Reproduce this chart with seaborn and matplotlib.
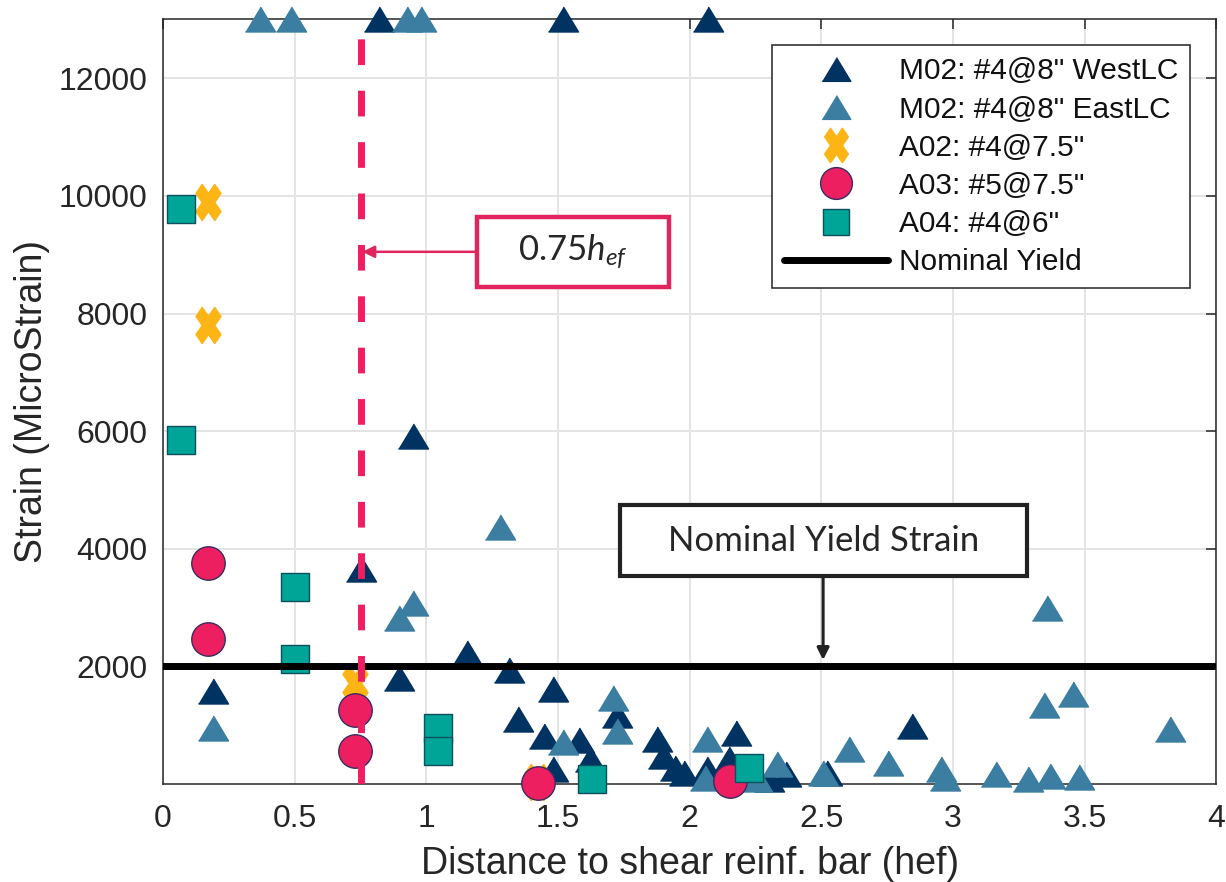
import numpy as np
import pandas as pd
import seaborn as sns
import matplotlib.pyplot as plt
from matplotlib.lines import Line2D
from matplotlib.markers import MarkerStyle
from matplotlib.patches import Rectangle
from matplotlib.transforms import Affine2D

# data (x in hef, y in microstrain)
west_x = [0.82, 1.52, 2.07, 0.95, 0.75, 0.19, 0.895, 1.155, 1.315, 1.48, 1.35, 1.445, 1.58, 1.62,
          1.48, 1.725, 1.875, 1.90, 1.945, 1.98, 2.065, 2.175, 2.15, 2.365, 2.30, 2.52, 2.845]
west_y = [13000, 13000, 13000, 5920, 3660, 1580, 1810, 2230, 1940, 1610, 1100, 815, 750, 420,
          250, 1180, 765, 475, 280, 190, 250, 870, 420, 165, 90, 190, 990]

east_x = [0.367, 0.486, 0.926, 0.981, 1.28, 0.95, 0.895, 0.19, 1.52, 1.71, 1.725, 2.065, 2.06, 2.33,
          2.255, 2.505, 2.605, 2.755, 2.955, 2.97, 3.165, 3.285, 3.37, 3.478, 3.358, 3.345, 3.457, 3.825]
east_y = [13000, 13000, 13000, 13000, 4365, 3085, 2820, 960, 710, 1470, 900, 765, 110, 335,
          80, 195, 590, 365, 250, 110, 165, 90, 135, 120, 3000, 1340, 1535, 930]

a02_x = [0.172, 0.172, 0.73, 1.42]
a02_y = [9900, 7800, 1720, 40]

a03_x = [0.172, 0.172, 0.73, 0.73, 1.425, 2.155]
a03_y = [3760, 2460, 1255, 560, 20, 50]

a04_x = [0.067, 0.067, 0.50, 0.50, 1.045, 1.045, 1.628, 2.225]
a04_y = [9780, 5855, 3350, 2120, 950, 560, 80, 280]

yield_strain = 2000
hef_line = 0.75

labels = ['M02: #4@8" WestLC', 'M02: #4@8" EastLC', 'A02: #4@7.5"', 'A03: #5@7.5"', 'A04: #4@6"']
colors = ['#003262', '#3B7EA1', '#FDB515', '#EE1F60', '#00A598']
edges = ['#003262', '#3B7EA1', '#FDB515', '#3B2B60', '#0E4F5C']

# markers: flattened triangle, tall filled X
tri = np.array([[-1, -0.83], [1, -0.83], [0, 0.83]])
xm = MarkerStyle('X')
xpath = xm.get_path().transformed(xm.get_transform() + Affine2D().scale(0.69, 1.0))
markers = [tri, tri, xpath, 'o', 's']
sizes = [470, 470, 680, 580, 390]

sns.set_style('whitegrid')
plt.rcParams['font.family'] = ['Liberation Sans', 'DejaVu Sans']
plt.rcParams['mathtext.fontset'] = 'custom'
plt.rcParams['mathtext.rm'] = 'Lato'
plt.rcParams['mathtext.it'] = 'Lato:italic'

fig = plt.figure(figsize=(12.26, 8.82), dpi=100)
ax = fig.add_axes([0.133, 0.111, 0.859, 0.867])

series = [(west_x, west_y), (east_x, east_y), (a02_x, a02_y), (a03_x, a03_y), (a04_x, a04_y)]
for (xs, ys), lab, c, ec, m, s in zip(series, labels, colors, edges, markers, sizes):
    df = pd.DataFrame({'x': xs, 'y': ys})
    sns.scatterplot(data=df, x='x', y='y', ax=ax, color=c, edgecolor=ec, marker=m, s=s,
                    linewidth=1.0, clip_on=False, zorder=3, legend=False)

# nominal yield and 0.75hef lines
ax.axhline(yield_strain, color='black', lw=5, zorder=4)
ax.plot([hef_line, hef_line], [0, 13000], color='#EE1F60', lw=5, dashes=(3.7, 3.7), zorder=4,
        solid_capstyle='butt', dash_capstyle='butt')

ax.set_xlim(0, 4)
ax.set_ylim(0, 13000)
ax.set_xticks(np.arange(0, 4.01, 0.5))
ax.set_xticklabels(['0', '0.5', '1', '1.5', '2', '2.5', '3', '3.5', '4'])
ax.set_yticks([2000, 4000, 6000, 8000, 10000, 12000])
ax.tick_params(labelsize=23, direction='in', length=7.5, width=1.1, color='#262626',
               labelcolor='#262626', top=True, right=True)
ax.tick_params(axis='x', pad=14)
ax.tick_params(axis='y', pad=11)
ax.grid(True, color='#E4E4E4', lw=1.4)
for sp in ax.spines.values():
    sp.set_color('#262626')
    sp.set_linewidth(1.1)
ax.set_xlabel('Distance to shear reinf. bar (hef)', fontsize=27, color='#262626', va='center')
ax.set_ylabel('Strain (MicroStrain)', fontsize=27, color='#262626', va='center')
ax.xaxis.set_label_coords(0.5, -0.104)
ax.yaxis.set_label_coords(-0.124, 0.5)

# annotation boxes
ax.add_patch(Rectangle((1.192, 8454), 0.73, 1195, fill=True, facecolor='white',
                       edgecolor='#E0245E', lw=3.2, zorder=5))
ax.text(1.557, 9052, r'$\mathrm{0.75}h_{ef}$', fontsize=25, ha='center', va='center', zorder=6)
ax.annotate('', xy=(0.757, 9049), xytext=(1.192, 9049), zorder=5,
            arrowprops=dict(arrowstyle='-|>', color='#E0245E', lw=1.8, mutation_scale=18,
                            shrinkA=0, shrinkB=0))

ax.add_patch(Rectangle((1.736, 3544), 1.546, 1206, fill=True, facecolor='white',
                       edgecolor='#222222', lw=3, zorder=5))
ax.text(2.509, 4140, 'Nominal Yield Strain', fontsize=25, family='Lato', ha='center',
        va='center', zorder=6)
ax.annotate('', xy=(2.507, 2110), xytext=(2.507, 3544), zorder=5,
            arrowprops=dict(arrowstyle='-|>', color='#222222', lw=2.2, mutation_scale=18,
                            shrinkA=0, shrinkB=0))

# legend
handles = []
for lab, c, ec, m, s in zip(labels, colors, edges, markers, sizes):
    handles.append(Line2D([], [], linestyle='none', marker=m, markersize=np.sqrt(s) * 0.95,
                          markerfacecolor=c, markeredgecolor=ec, markeredgewidth=1.0, label=lab))
handles.append(Line2D([], [], color='black', lw=5, label='Nominal Yield'))
leg = ax.legend(handles=handles, loc='upper right', bbox_to_anchor=(0.9753, 0.966),
                borderaxespad=0, fontsize=21.5, frameon=True, fancybox=False, framealpha=1,
                edgecolor='#333333', handlelength=3.5, handletextpad=0.35, labelspacing=0.34,
                borderpad=0.4)
leg.get_frame().set_linewidth(1.2)
leg.set_zorder(7)
for t in leg.get_texts():
    t.set_color('#111111')

fig.savefig('out.png', dpi=100)
